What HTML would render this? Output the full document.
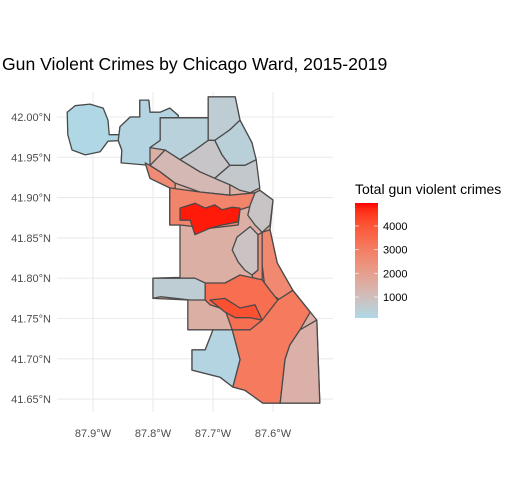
<!DOCTYPE html>
<html><head><meta charset="utf-8"><style>
body{margin:0;background:#fff;}
svg{display:block;font-family:"Liberation Sans",Arial,sans-serif;}
</style></head><body>
<svg id="chart" width="524" height="495" viewBox="0 0 524 495" xmlns="http://www.w3.org/2000/svg">
<rect width="524" height="495" fill="#fff"/>
<g id="grid"></g>
<g id="wards"></g>
<g id="axes"></g>
<g id="legend"></g>
<text x="2" y="70" font-size="17.6" fill="#000">Gun Violent Crimes by Chicago Ward, 2015-2019</text>
</svg>
<script>
const lonTicks = [-87.9, -87.8, -87.7, -87.6];
const lonLabels = ["87.9°W", "87.8°W", "87.7°W", "87.6°W"];
const latTicks = [42.00, 41.95, 41.90, 41.85, 41.80, 41.75, 41.70, 41.65];
const latLabels = ["42.00°N", "41.95°N", "41.90°N", "41.85°N", "41.80°N", "41.75°N", "41.70°N", "41.65°N"];
const legendTicks = [1000, 2000, 3000, 4000];
const scaleLimits = [114, 4970];
const wardNames = ["city-base","ohare","far-northwest","north-a","north-b","north-c","north-d","west-edge","northwest-belt","north-side-east","west-side-belt","west-side-core","downtown","central","near-south-lake","lakefront-south","southwest","south-central","south-core","far-south","southeast","hegewisch-west"];
const wardValues = [1500,150,250,350,500,400,750,2600,1200,650,2800,4850,800,850,2500,2700,500,3400,4100,3100,1450,250];
const wardShapes = [
[[-87.708,42.025],[-87.663,42.025],[-87.655,41.996],[-87.635,41.968],[-87.622,41.909],[-87.600,41.897],[-87.605,41.860],[-87.593,41.819],[-87.567,41.785],[-87.527,41.748],[-87.522,41.645],[-87.617,41.645],[-87.647,41.661],[-87.667,41.665],[-87.688,41.677],[-87.735,41.686],[-87.735,41.711],[-87.713,41.711],[-87.700,41.736],[-87.742,41.736],[-87.742,41.773],[-87.800,41.775],[-87.800,41.800],[-87.755,41.801],[-87.755,41.866],[-87.772,41.866],[-87.772,41.912],[-87.805,41.924],[-87.813,41.943],[-87.853,41.943],[-87.852,41.959],[-87.858,41.971],[-87.855,41.988],[-87.838,42.000],[-87.822,42.000],[-87.822,42.021],[-87.807,42.021],[-87.805,42.006],[-87.788,42.006],[-87.772,42.011],[-87.758,42.002],[-87.758,41.999],[-87.708,41.999]],
[[-87.943,42.006],[-87.930,42.014],[-87.905,42.016],[-87.883,42.011],[-87.875,41.996],[-87.873,41.978],[-87.847,41.978],[-87.847,41.971],[-87.875,41.970],[-87.888,41.957],[-87.913,41.953],[-87.935,41.959],[-87.942,41.978]],
[[-87.855,41.988],[-87.838,42.000],[-87.822,42.000],[-87.822,42.021],[-87.807,42.021],[-87.805,42.006],[-87.788,42.006],[-87.772,42.011],[-87.758,42.002],[-87.758,41.999],[-87.788,41.999],[-87.788,41.971],[-87.805,41.962],[-87.805,41.940],[-87.853,41.943],[-87.852,41.959],[-87.858,41.971]],
[[-87.788,41.999],[-87.708,41.999],[-87.708,41.971],[-87.730,41.959],[-87.755,41.947],[-87.780,41.959],[-87.805,41.962],[-87.788,41.971]],
[[-87.708,41.999],[-87.708,42.025],[-87.663,42.025],[-87.655,41.996],[-87.672,41.984],[-87.697,41.971],[-87.708,41.971]],
[[-87.697,41.971],[-87.672,41.984],[-87.655,41.996],[-87.635,41.968],[-87.628,41.947],[-87.647,41.940],[-87.672,41.940],[-87.685,41.953]],
[[-87.730,41.959],[-87.708,41.971],[-87.697,41.971],[-87.685,41.953],[-87.672,41.940],[-87.697,41.924],[-87.722,41.932],[-87.755,41.947]],
[[-87.813,41.943],[-87.805,41.940],[-87.788,41.932],[-87.763,41.918],[-87.763,41.909],[-87.772,41.909],[-87.772,41.912],[-87.805,41.924]],
[[-87.805,41.940],[-87.780,41.959],[-87.755,41.947],[-87.722,41.932],[-87.697,41.924],[-87.672,41.916],[-87.672,41.903],[-87.722,41.907],[-87.763,41.918],[-87.788,41.932]],
[[-87.672,41.916],[-87.697,41.924],[-87.672,41.940],[-87.647,41.940],[-87.628,41.947],[-87.622,41.912],[-87.638,41.906],[-87.655,41.909]],
[[-87.772,41.912],[-87.722,41.907],[-87.672,41.903],[-87.630,41.906],[-87.630,41.891],[-87.655,41.885],[-87.658,41.866],[-87.705,41.862],[-87.755,41.866],[-87.772,41.866]],
[[-87.755,41.887],[-87.730,41.893],[-87.713,41.887],[-87.697,41.891],[-87.685,41.885],[-87.668,41.888],[-87.655,41.887],[-87.658,41.870],[-87.685,41.866],[-87.705,41.862],[-87.730,41.854],[-87.738,41.872],[-87.755,41.872]],
[[-87.638,41.891],[-87.630,41.906],[-87.622,41.909],[-87.600,41.897],[-87.605,41.866],[-87.618,41.857],[-87.630,41.866],[-87.642,41.878]],
[[-87.660,41.851],[-87.638,41.864],[-87.625,41.854],[-87.625,41.810],[-87.635,41.804],[-87.647,41.810],[-87.658,41.820],[-87.668,41.835]],
[[-87.625,41.854],[-87.618,41.857],[-87.618,41.792],[-87.630,41.792],[-87.635,41.804],[-87.625,41.810]],
[[-87.618,41.857],[-87.605,41.860],[-87.593,41.819],[-87.567,41.785],[-87.588,41.773],[-87.613,41.785],[-87.618,41.816]],
[[-87.800,41.800],[-87.730,41.800],[-87.713,41.794],[-87.713,41.773],[-87.738,41.773],[-87.788,41.777],[-87.800,41.775]],
[[-87.713,41.794],[-87.680,41.794],[-87.655,41.804],[-87.618,41.798],[-87.605,41.785],[-87.592,41.773],[-87.608,41.748],[-87.630,41.736],[-87.638,41.717],[-87.668,41.736],[-87.680,41.761],[-87.705,41.767],[-87.713,41.773]],
[[-87.705,41.773],[-87.680,41.775],[-87.655,41.763],[-87.630,41.767],[-87.618,41.748],[-87.638,41.751],[-87.663,41.751],[-87.680,41.758]],
[[-87.668,41.736],[-87.638,41.736],[-87.618,41.748],[-87.592,41.773],[-87.567,41.785],[-87.538,41.758],[-87.555,41.736],[-87.572,41.717],[-87.580,41.699],[-87.588,41.645],[-87.617,41.645],[-87.647,41.661],[-87.667,41.665],[-87.655,41.699]],
[[-87.555,41.736],[-87.527,41.748],[-87.522,41.645],[-87.588,41.645],[-87.580,41.699],[-87.572,41.717]],
[[-87.700,41.736],[-87.668,41.736],[-87.655,41.699],[-87.667,41.665],[-87.688,41.677],[-87.735,41.686],[-87.735,41.711],[-87.713,41.711]]
];

const NS = "http://www.w3.org/2000/svg";
function xScale(lon){ return 93 + (lon + 87.9) * 600; }
function yScale(lat){ return 117 + (42 - lat) * 806; }

function toLin(c){c/=255;return c<=0.04045?c/12.92:Math.pow((c+0.055)/1.055,2.4);}
function fromLin(c){c=c<=0.0031308?12.92*c:1.055*Math.pow(c,1/2.4)-0.055;return Math.max(0,Math.min(255,Math.round(c*255)));}
function rgb2lab(r,g,b){r=toLin(r);g=toLin(g);b=toLin(b);
 let X=(r*0.4124+g*0.3576+b*0.1805)/0.95047,Y=r*0.2126+g*0.7152+b*0.0722,Z=(r*0.0193+g*0.1192+b*0.9505)/1.08883;
 const f=t=>t>0.008856?Math.cbrt(t):7.787*t+16/116;X=f(X);Y=f(Y);Z=f(Z);
 return [116*Y-16,500*(X-Y),200*(Y-Z)];}
function lab2rgb(L,a,b){let Y=(L+16)/116,X=a/500+Y,Z=Y-b/200;
 const fi=t=>t*t*t>0.008856?t*t*t:(t-16/116)/7.787;X=fi(X)*0.95047;Y=fi(Y);Z=fi(Z)*1.08883;
 const r=X*3.2406+Y*-1.5372+Z*-0.4986,g=X*-0.9689+Y*1.8758+Z*0.0415,bb=X*0.0557+Y*-0.2040+Z*1.0570;
 return `rgb(${fromLin(r)},${fromLin(g)},${fromLin(bb)})`;}
const labLow=rgb2lab(173,216,230), labHigh=rgb2lab(255,0,0);
function color(v){let t=(v-scaleLimits[0])/(scaleLimits[1]-scaleLimits[0]);t=Math.max(0,Math.min(1,t));
 return lab2rgb(labLow[0]+(labHigh[0]-labLow[0])*t,labLow[1]+(labHigh[1]-labLow[1])*t,labLow[2]+(labHigh[2]-labLow[2])*t);}

const grid=document.getElementById('grid');
lonTicks.forEach((lon)=>{const l=document.createElementNS(NS,'line');
 
 
 l.setAttribute('x1',xScale(lon));l.setAttribute('x2',xScale(lon));l.setAttribute('y1',92);l.setAttribute('y2',412);
 l.setAttribute('stroke','#ebebeb');l.setAttribute('stroke-width','1.1');grid.appendChild(l);});
latTicks.forEach((lat)=>{const l=document.createElementNS(NS,'line');
 
 
 l.setAttribute('x1',57);l.setAttribute('x2',333);l.setAttribute('y1',yScale(lat));l.setAttribute('y2',yScale(lat));
 l.setAttribute('stroke','#ebebeb');l.setAttribute('stroke-width','1.1');grid.appendChild(l);});

const wards=document.getElementById('wards');
wardShapes.forEach((shape,i)=>{const p=document.createElementNS(NS,'polygon');
 
 
 p.setAttribute('points',shape.map(c=>xScale(c[0]).toFixed(1)+','+yScale(c[1]).toFixed(1)).join(' '));
 p.setAttribute('fill',color(wardValues[i]));p.setAttribute('stroke','#4a4a4a');p.setAttribute('stroke-width','1.3');
 p.setAttribute('stroke-linejoin','round');wards.appendChild(p);});

const axes=document.getElementById('axes');
lonTicks.forEach((lon,i)=>{const t=document.createElementNS(NS,'text');
 
 
 t.setAttribute('x',xScale(lon));t.setAttribute('y',437);t.setAttribute('text-anchor','middle');
 t.setAttribute('font-size','11');t.setAttribute('fill','#4d4d4d');t.textContent=lonLabels[i];axes.appendChild(t);});
latTicks.forEach((lat,i)=>{const t=document.createElementNS(NS,'text');
 
 
 t.setAttribute('x',51);t.setAttribute('y',yScale(lat)+4);t.setAttribute('text-anchor','end');
 t.setAttribute('font-size','11');t.setAttribute('fill','#4d4d4d');t.textContent=latLabels[i];axes.appendChild(t);});

const lg=document.getElementById('legend');
const barTop=203,barBot=318,barX=355,barW=23;
function legY(v){return barBot-(v-scaleLimits[0])/(scaleLimits[1]-scaleLimits[0])*(barBot-barTop);}
const defs=document.createElementNS(NS,'defs');
const grad=document.createElementNS(NS,'linearGradient');
grad.setAttribute('id','lgGrad');grad.setAttribute('x1','0');grad.setAttribute('y1','1');grad.setAttribute('x2','0');grad.setAttribute('y2','0');
for(let k=0;k<=20;k++){const s=document.createElementNS(NS,'stop');s.setAttribute('offset',k/20);
 s.setAttribute('stop-color',color(scaleLimits[0]+(scaleLimits[1]-scaleLimits[0])*k/20));grad.appendChild(s);}
defs.appendChild(grad);lg.appendChild(defs);
const title=document.createElementNS(NS,'text');


title.setAttribute('x',355);title.setAttribute('y',194);title.setAttribute('font-size','14');title.textContent='Total gun violent crimes';lg.appendChild(title);
const bar=document.createElementNS(NS,'rect');


bar.setAttribute('x',barX);bar.setAttribute('y',barTop);bar.setAttribute('width',barW);bar.setAttribute('height',barBot-barTop);
bar.setAttribute('fill','url(#lgGrad)');lg.appendChild(bar);
legendTicks.forEach(v=>{const y=legY(v);
 [barX,barX+barW-4].forEach(x0=>{const tk=document.createElementNS(NS,'line');
  
  
  tk.setAttribute('x1',x0);tk.setAttribute('x2',x0+4);tk.setAttribute('y1',y);tk.setAttribute('y2',y);
  tk.setAttribute('stroke','#fff');tk.setAttribute('stroke-width','0.8');tk.setAttribute('opacity','0.8');lg.appendChild(tk);});
 const t=document.createElementNS(NS,'text');
 
 
 t.setAttribute('x',383);t.setAttribute('y',y+4);t.setAttribute('font-size','11');t.setAttribute('fill','#000');t.textContent=v;lg.appendChild(t);});
</script>
</body></html>
